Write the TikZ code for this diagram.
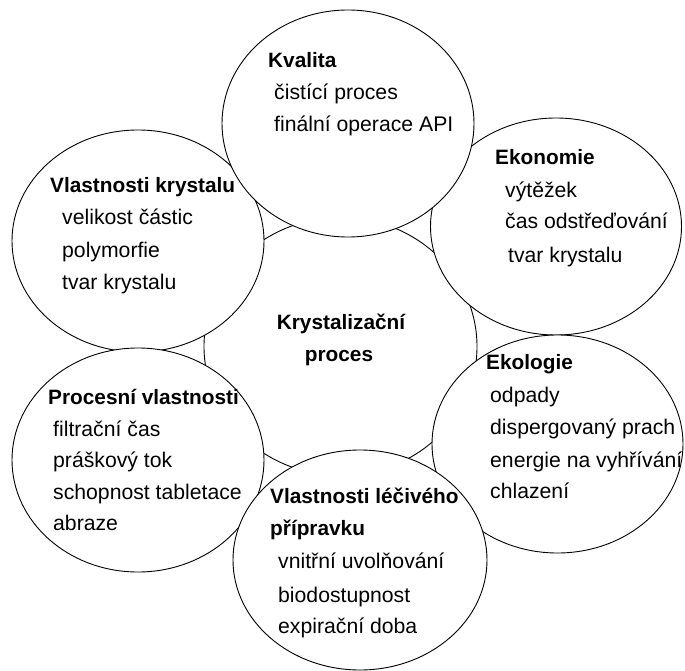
\documentclass[tikz,border=0pt]{standalone}
\usepackage{fontspec}
\setmainfont{Liberation Sans}
\usetikzlibrary{shapes.geometric}
\tikzset{
  bubble/.style={ellipse, draw=black, fill=white, line width=0.9pt, inner sep=0pt},
  txt/.style={anchor=base west, inner sep=0pt, font=\fontsize{21.2}{24}\selectfont},
  ttl/.style={txt, font=\fontsize{20.8}{24}\selectfont\bfseries},
  ctr/.style={anchor=base, inner sep=0pt, font=\fontsize{20.8}{24}\selectfont\bfseries}
}
\begin{document}
\begin{tikzpicture}[x=1pt,y=-1pt]
\useasboundingbox (0,0) rectangle (685,671);
% ellipses
\node[bubble, minimum width=273pt, minimum height=258pt] (cen) at (340.5,346.5) {};
\node[bubble, minimum width=252pt, minimum height=222pt] (kry) at (138,241) {};
\node[bubble, minimum width=252pt, minimum height=224pt] (pro) at (138,460) {};
\node[bubble, minimum width=251pt, minimum height=217pt] (eko) at (556,226.5) {};
\node[bubble, minimum width=251pt, minimum height=218pt] (ekl) at (557.5,444) {};
\node[bubble, minimum width=252pt, minimum height=227pt] (kva) at (348,123.5) {};
\node[bubble, minimum width=254pt, minimum height=220pt] (lec) at (360,560) {};
% centre
\node[ctr] (c1) at (341,329) {Krystalizační};
\node[ctr] (c2) at (339,361) {proces};
% Kvalita
\node[ttl] (kva0) at (268,68) {Kvalita};
\node[txt] (kva1) at (274,100) {čistící proces};
\node[txt] (kva2) at (274,132) {finální operace API};
% Vlastnosti krystalu
\node[ttl] (kry0) at (50,193) {Vlastnosti krystalu};
\node[txt] (kry1) at (62,224.5) {velikost částic};
\node[txt] (kry2) at (62,257.5) {polymorfie};
\node[txt] (kry3) at (62,289) {tvar krystalu};
% Ekonomie
\node[ttl] (eko0) at (495,165) {Ekonomie};
\node[txt] (eko1) at (505,197) {výtěžek};
\node[txt] (eko2) at (505,229) {čas odstřeďování};
\node[txt] (eko3) at (508,262) {tvar krystalu};
% Ekologie
\node[ttl] (ekl0) at (486,369) {Ekologie};
\node[txt] (ekl1) at (490,402) {odpady};
\node[txt] (ekl2) at (490,434) {dispergovaný prach};
\node[txt] (ekl3) at (490,467) {energie na vyhřívání};
\node[txt] (ekl4) at (490,498) {chlazení};
% Procesni vlastnosti
\node[ttl] (pro0) at (48,404) {Procesní vlastnosti};
\node[txt] (pro1) at (53,436) {filtrační čas};
\node[txt] (pro2) at (53,467) {práškový tok};
\node[txt] (pro3) at (53,499) {schopnost tabletace};
\node[txt] (pro4) at (53,530) {abraze};
% Vlastnosti lecivého pripravku
\node[ttl] (lec0) at (270,503) {Vlastnosti léčivého};
\node[ttl] (lec1) at (270,535) {přípravku};
\node[txt] (lec2) at (278,568) {vnitřní uvolňování};
\node[txt] (lec3) at (278,602) {biodostupnost};
\node[txt] (lec4) at (278,633) {expirační doba};
\end{tikzpicture}
\end{document}
